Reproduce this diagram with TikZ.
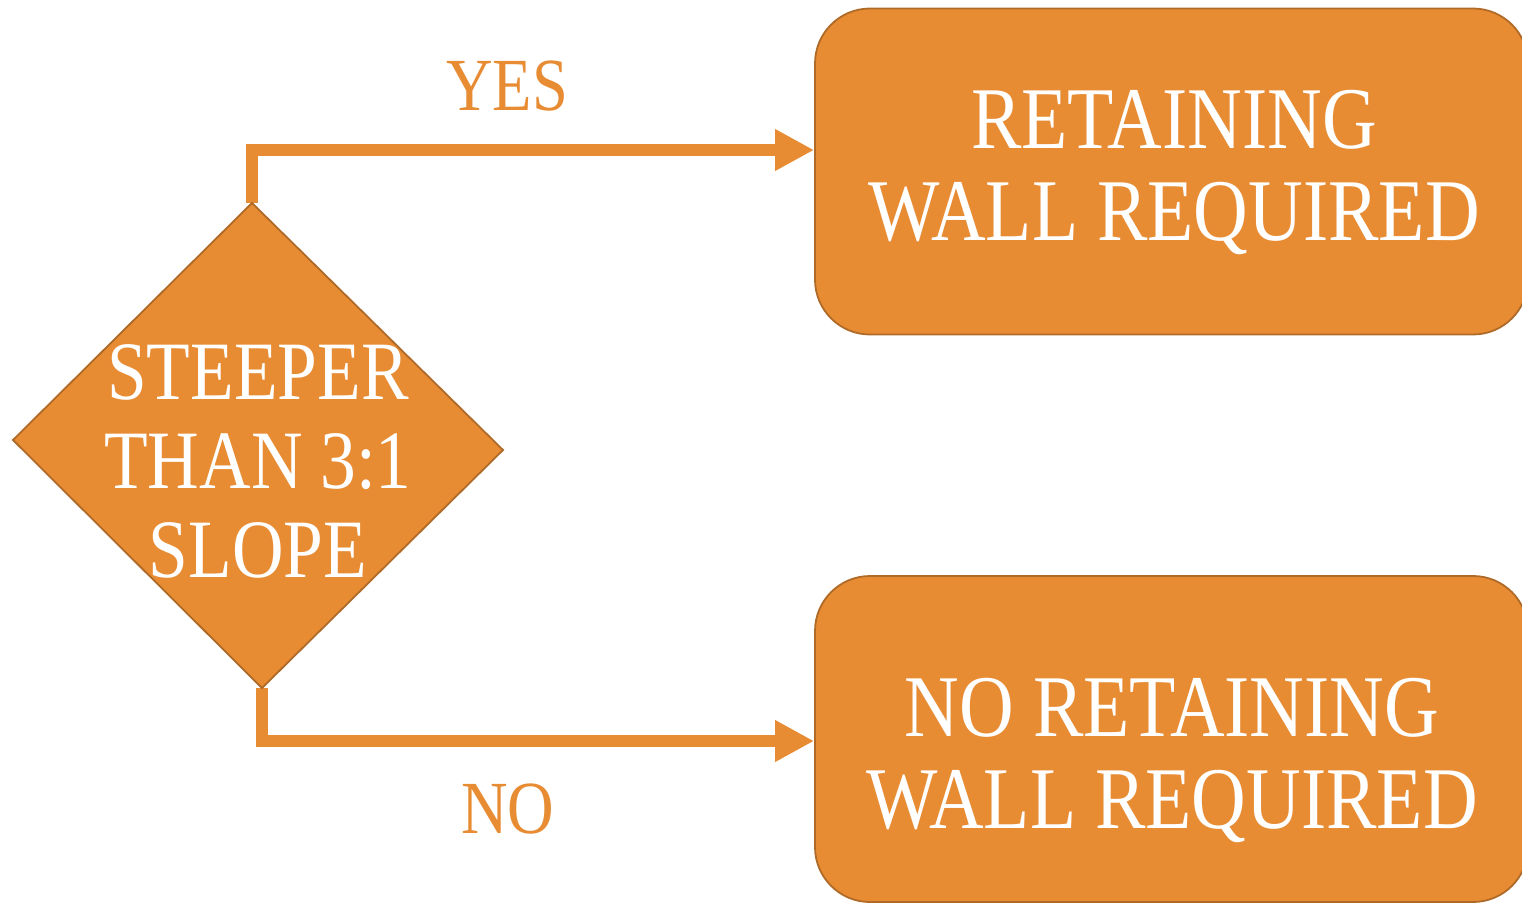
\documentclass[tikz,border=0pt]{standalone}
\usepackage{fontspec}
\newfontfamily\cf[FakeStretch=0.86]{Liberation Serif}
\usetikzlibrary{arrows.meta}
\definecolor{orfill}{RGB}{232,140,52}
\definecolor{orline}{RGB}{176,106,40}
\begin{document}
\begin{tikzpicture}[x=1pt,y=-1pt,
  outbox/.style={draw=orline,line width=1.8pt,fill=orfill,rounded corners=55pt,
    minimum width=713pt,minimum height=326pt,inner sep=0pt},
  boxtext/.style={align=center,inner sep=0pt,
    text=white,font=\cf\fontsize{88}{92}\selectfont},
  flow/.style={draw=orfill,line width=12.5pt,-{Triangle[length=39pt,width=39pt]}},
  lbl/.style={text=orfill,font=\cf\fontsize{75}{80}\selectfont,inner sep=0pt,anchor=base},
  dtext/.style={text=white,align=center,inner sep=0pt,font=\cf\fontsize{83}{89}\selectfont}]
\useasboundingbox (0,0) rectangle (1522,903);
\clip (0,0) rectangle (1522,903);
\fill[white] (0,0) rectangle (1522,903);
% boxes
\node[outbox] (yesbox) at (1171.5,171.5) {};
\node[boxtext] (yestext) at (1174,172) {RETAINING\\WALL REQUIRED};
\node[outbox] (nobox) at (1171.5,739) {};
\node[boxtext] (notext) at (1172,760) {NO RETAINING\\WALL REQUIRED};
% diamond corners
\coordinate (dtop) at (252,203);
\coordinate (dright) at (503,450);
\coordinate (dbot) at (262,688);
\coordinate (dleft) at (13,440);
% connectors
\draw[flow] (dtop) |- ([yshift=21.5pt]yesbox.west);
\draw[flow] (dbot) |- ([yshift=-2pt]nobox.west);
% diamond
\draw[draw=orline,line width=1.8pt,fill=orfill] (dtop) -- (dright) -- (dbot) -- (dleft) -- cycle;
\node[dtext] (dlabel) at (258,461) {STEEPER\\THAN 3:1\\SLOPE};
% labels
\node[lbl] (yes) at (507,110) {YES};
\node[lbl] (no) at (508,833) {NO};
\end{tikzpicture}
\end{document}
